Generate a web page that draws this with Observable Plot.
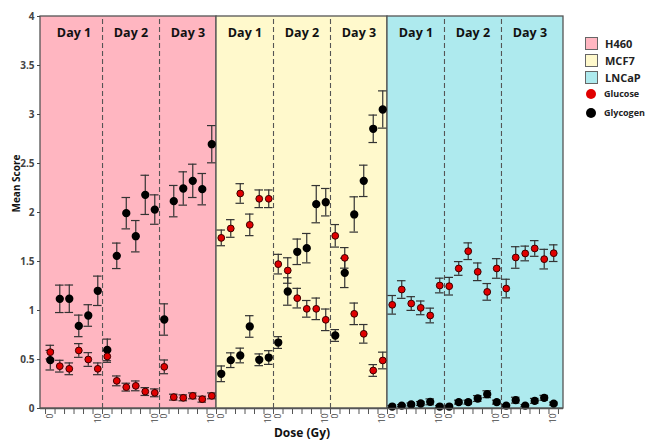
<!DOCTYPE html>
<html><head><meta charset="utf-8">
<script src="https://cdn.jsdelivr.net/npm/d3@7"></script>
<script src="https://cdn.jsdelivr.net/npm/@observablehq/plot@0.6"></script>
<style>
body{margin:0;background:#fff;font-family:"Open Sans",sans-serif}
#wrap{position:relative;width:654px;height:444px}
.lg{position:absolute;display:flex;align-items:center;font-weight:bold;color:#222;white-space:nowrap}
.sq{display:inline-block;width:11px;height:11px;border:1px solid #666;margin-right:7px}
.dot{display:inline-block;width:10px;height:10px;border-radius:50%;margin-right:8px}
</style></head><body><div id="wrap"></div>
<script>
const cellLines = ["H460", "MCF7", "LNCaP"];
const days = ["Day 1", "Day 2", "Day 3"];
const doses = [0, 2, 4, 6, 8, 10];
const panelColors = ["#FFB6C1", "#FFF9CC", "#AEEAEE"];

// Glucose (red) mean score and error, ordered cell line -> day -> dose
const glucoseMean = [
  0.575, 0.432, 0.405, 0.592, 0.50, 0.405,  0.531, 0.282, 0.218, 0.231, 0.173, 0.16,  0.425, 0.116, 0.109, 0.129, 0.095, 0.129,
  1.741, 1.837, 2.194, 1.874, 2.14, 2.14,   1.473, 1.408, 1.126, 1.017, 1.017, 0.905,  1.762, 1.537, 0.966, 0.762, 0.388, 0.49,
  1.058, 1.214, 1.071, 1.027, 0.949, 1.255, 1.248, 1.429, 1.605, 1.395, 1.19, 1.429,   1.224, 1.541, 1.582, 1.633, 1.524, 1.585
];
const glucoseErr = [
  0.07, 0.06, 0.06, 0.07, 0.07, 0.06,  0.06, 0.05, 0.04, 0.05, 0.04, 0.04,  0.07, 0.03, 0.03, 0.03, 0.03, 0.03,
  0.08, 0.09, 0.10, 0.11, 0.09, 0.09,  0.10, 0.13, 0.10, 0.085, 0.11, 0.11, 0.115, 0.105, 0.11, 0.095, 0.06, 0.085,
  0.095, 0.09, 0.07, 0.07, 0.075, 0.075, 0.09, 0.07, 0.085, 0.09, 0.085, 0.10, 0.095, 0.11, 0.075, 0.08, 0.10, 0.085
];
// Glycogen (black) mean score and error
const glycogenMean = [
  0.493, 1.119, 1.12, 0.843, 0.949, 1.201,  0.598, 1.558, 1.993, 1.758, 2.18, 2.03,  0.908, 2.116, 2.245, 2.323, 2.238, 2.697,
  0.354, 0.493, 0.541, 0.837, 0.497, 0.52,  0.673, 1.194, 1.599, 1.636, 2.085, 2.105, 0.745, 1.384, 1.98, 2.323, 2.854, 3.051,
  0.02, 0.03, 0.041, 0.051, 0.068, 0.02,    0.02, 0.065, 0.065, 0.102, 0.146, 0.065,  0.03, 0.085, 0.03, 0.078, 0.109, 0.05
];
const glycogenErr = [
  0.10, 0.14, 0.14, 0.11, 0.11, 0.15,  0.11, 0.13, 0.16, 0.16, 0.20, 0.15,  0.16, 0.16, 0.17, 0.17, 0.16, 0.19,
  0.08, 0.075, 0.075, 0.11, 0.06, 0.07, 0.06, 0.14, 0.13, 0.15, 0.19, 0.14,  0.06, 0.15, 0.18, 0.16, 0.14, 0.19,
  0.01, 0.01, 0.015, 0.02, 0.03, 0.01,  0.01, 0.02, 0.02, 0.03, 0.035, 0.02,  0.01, 0.03, 0.01, 0.025, 0.025, 0.015
];
const yTicks = [0, 0.5, 1, 1.5, 2, 2.5, 3, 3.5, 4];

const perDay = doses.length, perLine = days.length * perDay;
const rows = [];
cellLines.forEach((cl, p) => days.forEach((day, d) => doses.forEach((dose, k) => {
  const i = p * perLine + d * perDay + k;
  rows.push({i, cl, day, dose, glu: glucoseMean[i], gluE: glucoseErr[i], gly: glycogenMean[i], glyE: glycogenErr[i]});
})));
const n = rows.length;
const pad = 1.03;
const xDomain = [-pad, n - 1 + pad];

const panels = cellLines.map((cl, p) => ({
  cl, fill: panelColors[p],
  x1: p === 0 ? xDomain[0] : p * perLine - 0.5,
  x2: p === cellLines.length - 1 ? xDomain[1] : (p + 1) * perLine - 0.5
}));
const dayBlocks = [];
const dividers = [];
cellLines.forEach((cl, p) => days.forEach((day, d) => {
  const a = Math.max(p * perLine + d * perDay - 0.5, xDomain[0]);
  const b = Math.min(p * perLine + (d + 1) * perDay - 0.5, xDomain[1]);
  dayBlocks.push({day, x: (a + b) / 2});
  if (d > 0) dividers.push(p * perLine + d * perDay - 0.5);
}));
const tickPos = d3.range(0, n + 1).map(i => i - 0.5);
const labelRows = rows.filter(r => r.dose === doses[0] || r.dose === doses[doses.length - 1]);

const capW = 0.45;
const errCol = "#333";
const chart = Plot.plot({
  width: 654, height: 444,
  marginLeft: 40, marginRight: 91, marginTop: 16, marginBottom: 36,
  style: {fontFamily: "'Open Sans', sans-serif", fontSize: "10px", background: "white", overflow: "visible"},
  x: {type: "linear", domain: xDomain},
  y: {domain: [0, 4]},
  marks: [
    Plot.rect(panels, {x1: "x1", x2: "x2", y1: 0, y2: 4, fill: "fill", stroke: "#555", strokeWidth: 1.3}),
    Plot.ruleX(dividers, {x: d => d, y1: 0, y2: 4, stroke: "#555", strokeWidth: 1.1, strokeDasharray: "5,3"}),
    Plot.text(dayBlocks, {x: "x", text: "day", frameAnchor: "top", lineAnchor: "middle", dy: 16, fontWeight: "bold", fontSize: 12.5, fill: "#111"}),
    // glycogen error bars
    Plot.ruleX(rows, {x: "i", y1: d => d.gly - d.glyE, y2: d => d.gly + d.glyE, stroke: errCol, strokeWidth: 1.2}),
    Plot.ruleY(rows, {y: d => d.gly + d.glyE, x1: d => d.i - capW, x2: d => d.i + capW, stroke: errCol, strokeWidth: 1.2}),
    Plot.ruleY(rows, {y: d => d.gly - d.glyE, x1: d => d.i - capW, x2: d => d.i + capW, stroke: errCol, strokeWidth: 1.2}),
    // glucose error bars
    Plot.ruleX(rows, {x: "i", y1: d => d.glu - d.gluE, y2: d => d.glu + d.gluE, stroke: errCol, strokeWidth: 1.2}),
    Plot.ruleY(rows, {y: d => d.glu + d.gluE, x1: d => d.i - capW, x2: d => d.i + capW, stroke: errCol, strokeWidth: 1.2}),
    Plot.ruleY(rows, {y: d => d.glu - d.gluE, x1: d => d.i - capW, x2: d => d.i + capW, stroke: errCol, strokeWidth: 1.2}),
    Plot.dot(rows, {x: "i", y: "gly", r: 3.4, fill: "#000", stroke: "#000"}),
    Plot.dot(rows, {x: "i", y: "glu", r: 3.4, fill: "#E00000", stroke: "#3a0000", strokeWidth: 1}),
    Plot.axisY({ticks: yTicks, tickFormat: d => String(d), tickSize: 3, tickPadding: 3, label: null, color: "#444", fontWeight: "bold", fontSize: 10}),
    Plot.axisX({ticks: tickPos, tickFormat: () => "", tickSize: 6, label: null, color: "#555"}),
    Plot.ruleY([0], {stroke: "#555", strokeWidth: 1.3}),
    Plot.text(labelRows, {x: "i", y: 0, text: d => String(d.dose), rotate: -90, textAnchor: "end", dy: 5, fontSize: 8.5, fill: "#444"}),
    Plot.text(["Dose (Gy)"], {frameAnchor: "bottom", dy: 28, fontWeight: "bold", fontSize: 12, fill: "#111"}),
    Plot.text(["Mean Score"], {frameAnchor: "left", dx: -24, rotate: -90, fontWeight: "bold", fontSize: 10, fill: "#111"})
  ]
});
const wrap = document.getElementById("wrap");
wrap.appendChild(chart);

const legendItems = [
  {label: cellLines[0], kind: "sq", color: panelColors[0], top: 36, size: 11},
  {label: cellLines[1], kind: "sq", color: panelColors[1], top: 53, size: 11},
  {label: cellLines[2], kind: "sq", color: panelColors[2], top: 70, size: 11},
  {label: "Glucose", kind: "dot", color: "#E00000", top: 87, size: 9},
  {label: "Glycogen", kind: "dot", color: "#000", top: 106, size: 9}
];
legendItems.forEach(it => {
  const div = document.createElement("div");
  div.className = "lg";
  div.style.left = (it.kind === "sq" ? 585 : 586) + "px";
  div.style.top = it.top + "px";
  div.style.fontSize = it.size + "px";
  const m = document.createElement("span");
  m.className = it.kind;
  m.style.background = it.color;
  div.appendChild(m);
  div.appendChild(document.createTextNode(it.label));
  wrap.appendChild(div);
});
</script></body></html>
